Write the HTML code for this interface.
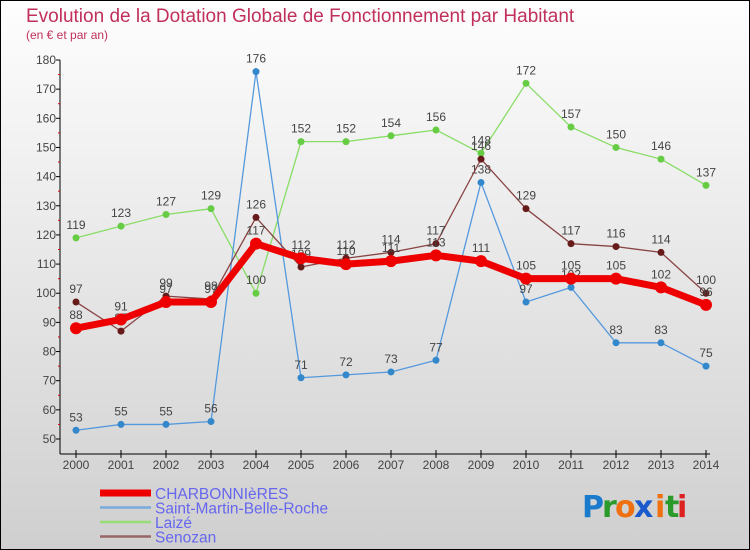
<!DOCTYPE html>
<html><head><meta charset="utf-8"><style>
body{margin:0;width:750px;height:550px;overflow:hidden;}
svg{display:block;font-family:"Liberation Sans",sans-serif;}
</style></head><body>
<svg id="c" width="750" height="550">
<defs><linearGradient id="bg" x1="0" y1="0" x2="0" y2="1"><stop offset="0" stop-color="#fefefe"/><stop offset="1" stop-color="#cfcfcf"/></linearGradient></defs>
<rect x="0.5" y="0.5" width="749" height="549" fill="url(#bg)" stroke="#000"/>
<text x="26" y="22" font-size="19" fill="#c0305a">Evolution de la Dotation Globale de Fonctionnement par Habitant</text>
<text x="26" y="39" font-size="12" fill="#c0305a">(en € et par an)</text>
<g id="axes"></g><g id="series"></g><g id="legend"></g>
<g font-size="30" font-family="'DejaVu Sans',sans-serif" font-weight="bold">
<text x="582" y="517" fill="#1a7acc">P</text><text x="602" y="517" fill="#2a9a2a">r</text><text x="615" y="517" fill="#ee7010">o</text><text x="634" y="517" fill="#1a5acc">x</text><text x="655" y="517" fill="#ee7010">i</text><text x="665" y="517" fill="#2a9a2a">t</text><text x="677" y="517" fill="#dd2020">i</text>
</g>
</svg>
<script>
const years=[2000,2001,2002,2003,2004,2005,2006,2007,2008,2009,2010,2011,2012,2013,2014];
const yTicks=[50,60,70,80,90,100,110,120,130,140,150,160,170,180];
const charb=[88,91,97,97,117,112,110,111,113,111,105,105,105,102,96];
const smbr=[53,55,55,56,176,71,72,73,77,138,97,102,83,83,75];
const laize=[119,123,127,129,100,152,152,154,156,148,172,157,150,146,137];
const senozan=[97,87,99,98,126,109,112,114,117,146,129,117,116,114,100];
const NS='http://www.w3.org/2000/svg';
const X=i=>76+i*45, Y=v=>439-(v-50)*(379/130);
function mk(p,t,a){const e=document.createElementNS(NS,t);for(const k in a)e.setAttribute(k,a[k]);p.appendChild(e);return e;}
const ax=document.getElementById('axes');
let e=mk(ax,'line',{x1:60,y1:60,x2:60,y2:454,stroke:'#000'});


e=mk(ax,'line',{x1:60,y1:454,x2:710,y2:454,stroke:'#000'});


yTicks.forEach(v=>{mk(ax,'line',{x1:56,y1:Y(v),x2:60,y2:Y(v),stroke:'#000'});
 if(v<180){mk(ax,'line',{x1:58,y1:Y(v+5),x2:60,y2:Y(v+5),stroke:'#d00'});}
 const t=mk(ax,'text',{x:56,y:Y(v)+4,'font-size':12,fill:'#444','text-anchor':'end'});t.textContent=v;
 
 });
years.forEach((y,i)=>{mk(ax,'line',{x1:X(i),y1:450,x2:X(i),y2:458,stroke:'#000'});
 const t=mk(ax,'text',{x:X(i),y:469,'font-size':12,fill:'#444','text-anchor':'middle'});t.textContent=y;
 
 });
const sg=document.getElementById('series');
function draw(d,col,dot,w,r,name){const g=mk(sg,'g',{});
 
 
 mk(g,'polyline',{points:d.map((v,i)=>X(i)+','+Y(v)).join(' '),fill:'none',stroke:col,'stroke-width':w,'stroke-linejoin':'round'});
 d.forEach((v,i)=>{const c=mk(g,'circle',{cx:X(i),cy:Y(v),r:r,fill:dot});
  
  
  const t=mk(g,'text',{x:X(i),y:Y(v)-9,'font-size':12,fill:'#444','text-anchor':'middle'});t.textContent=v;});}
draw(laize,'#88dd66','#66cc44',1.3,3.5,'laize-series');
draw(smbr,'#5599dd','#3388cc',1.3,3.5,'saint-martin-series');
draw(senozan,'#884444','#661a1a',1.3,3.5,'senozan-series');
draw(charb,'#ee0000','#ee0000',7,6,'charbonnieres-series');
const lg=document.getElementById('legend');
[['CHARBONNIèRES','#ee0000',7],['Saint-Martin-Belle-Roche','#77aadd',2.5],['Laizé','#99dd77',2.5],['Senozan','#996666',2.5]].forEach((s,i)=>{
 const y=493+i*14.5;const g=mk(lg,'g',{});
 
 
 mk(g,'line',{x1:100,y1:y,x2:151,y2:y,stroke:s[1],'stroke-width':s[2]});
 const t=mk(g,'text',{x:155,y:y+6,'font-size':15.5,fill:'#6666ee'});t.textContent=s[0];});
</script>
</body></html>
